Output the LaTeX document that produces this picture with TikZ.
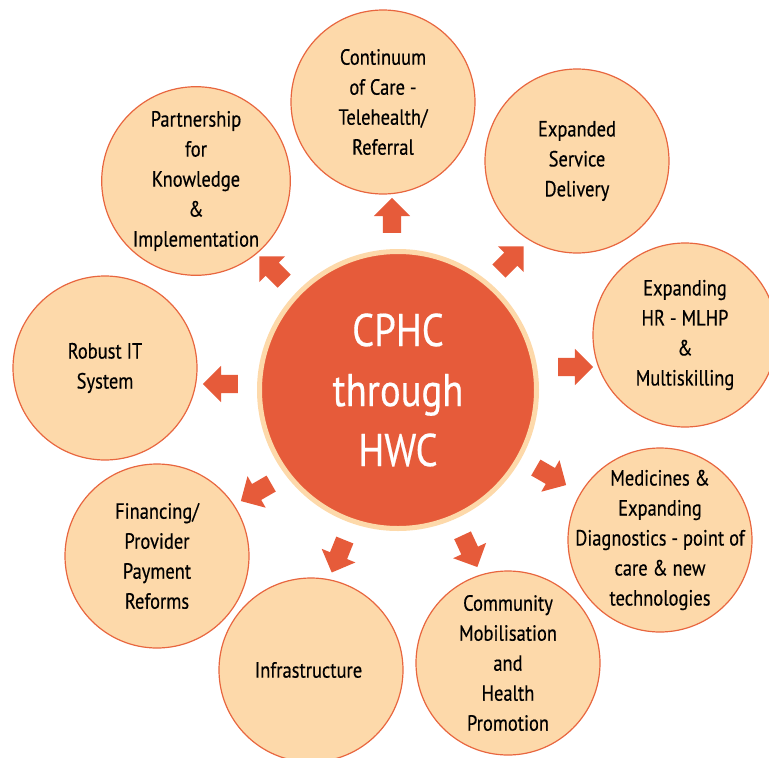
\documentclass[tikz,border=0pt]{standalone}
\usepackage{fontspec}
\setmainfont{PT Sans}[FakeStretch=0.84, FakeBold=0.4]
\usepackage{tikz}
\usetikzlibrary{shapes.arrows}

\definecolor{hwcred}{HTML}{E65B3A}
\definecolor{hwcpeach}{HTML}{FDD9AA}
\definecolor{hwcedge}{HTML}{E8663F}

\begin{document}
\begin{tikzpicture}[x = 1pt, y = -1pt,
    hub/.style = { circle, fill = hwcred, draw = hwcpeach, line width = 5pt,
      minimum size = 277pt, text = white, align = center,
      font = \fontsize{46}{60}\selectfont },
    spoke/.style = { circle, fill = hwcpeach, draw = hwcedge, line width = 1.2pt,
      minimum size = 184pt, inner sep = 0pt, align = center, text = black,
      font = \fontsize{22}{30}\selectfont },
    push/.style = { single arrow, fill = hwcred, inner xsep = 0pt, inner ysep = 9pt,
      minimum height = 35pt, minimum width = 36pt,
      single arrow head extend = 9pt, rotate = #1 }]
      \useasboundingbox (0,0) rectangle (769,758);

      \node [hub] (cphc) at (398,390) { CPHC \\ through \\ HWC };

      % the nine pillars round the hub
      \node [spoke] (care)      at (383,102) { Continuum \\ of Care - \\ Telehealth/ \\ Referral };
      \node [spoke] (service)   at (577,161) { Expanded \\ Service \\ Delivery };
      \node [spoke] (hr)        at (685,335) { Expanding \\ HR - MLHP \\ \& \\ Multiskilling };
      \node [spoke, inner sep = -20pt] (medicine) at (660,540)
        { Medicines \& \\ Expanding \\ Diagnostics - point of \\ care \& new \\ technologies };
      \node [spoke] (community) at (508,663) { Community \\ Mobilisation \\ and \\ Health \\ Promotion };
      \node [spoke] (infra)     at (311,670) { Infrastructure };
      \node [spoke] (finance)   at (157,556) { Financing/ \\ Provider \\ Payment \\ Reforms };
      \node [spoke] (it)        at (105,368) { Robust IT \\ System };
      \node [spoke] (partner)   at (196,181) { Partnership \\ for \\ Knowledge \\ \& \\ Implementation };

      % block arrows out of the hub
      \node [push = 90]   (tocare)      at (392,220) {};
      \node [push = 45]   (toservice)   at (508,262) {};
      \node [push = 0]    (tohr)        at (571,367) {};
      \node [push = -30]  (tomedicine)  at (547,474) {};
      \node [push = -65]  (tocommunity) at (468,547) {};
      \node [push = -112] (toinfra)     at (340,552) {};
      \node [push = -150] (tofinance)   at (260,490) {};
      \node [push = 180]  (toit)        at (225,384) {};
      \node [push = 135]  (topartner)   at (275,272) {};
    \end{tikzpicture}
\end{document}
